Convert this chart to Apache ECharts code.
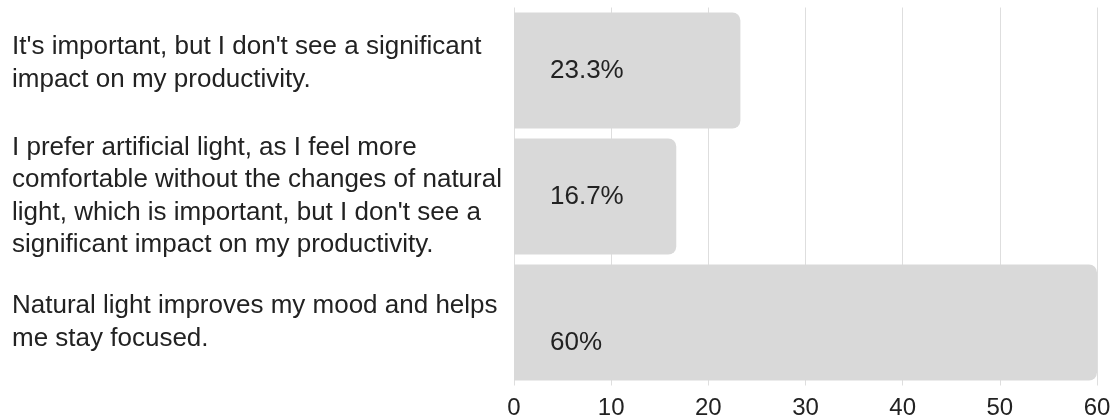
<!DOCTYPE html>
<html>
<head>
<meta charset="utf-8">
<script src="https://cdn.jsdelivr.net/npm/echarts@6/dist/echarts.min.js"></script>
<style>
  html, body { margin: 0; padding: 0; background: #fff; }
  #chart { width: 1115px; height: 417px; }
</style>
</head>
<body>
<div id="chart"></div>
<script>
// Survey answers about natural light, one bar per answer
const categories = [
  "It's important, but I don't see a significant\nimpact on my productivity.",
  "I prefer artificial light, as I feel more\ncomfortable without the changes of natural\nlight, which is important, but I don't see a\nsignificant impact on my productivity.",
  "Natural light improves my mood and helps\nme stay focused."
];
const shares = [23.3, 16.7, 60];
const valueLabels = ["23.3%", "16.7%", "60%"];
const xTicks = [0, 10, 20, 30, 40, 50, 60];

const FONT = '"Liberation Sans", Arial, sans-serif';

const chart = echarts.init(document.getElementById('chart'));
chart.setOption({
  animation: false,
  grid: {
    left: 514, right: 18, top: 7.5, bottom: 31.5,
    containLabel: false, outerBoundsMode: 'none'
  },
  xAxis: {
    type: 'value',
    min: xTicks[0],
    max: xTicks[xTicks.length - 1],
    interval: xTicks[1] - xTicks[0],
    axisLine: { show: false },
    axisTick: { show: false },
    splitLine: { show: true, lineStyle: { color: '#dedede', width: 1 } },
    axisLabel: { color: '#222', fontSize: 24, fontFamily: FONT, margin: 11 }
  },
  yAxis: {
    type: 'category',
    data: categories,
    inverse: true,
    axisLine: { show: false },
    axisTick: { show: false },
    axisLabel: {
      color: '#222', fontSize: 26, fontFamily: FONT, lineHeight: 32.5,
      align: 'left', margin: 502,
      // the first answer sits a little above the middle of its bar:
      // a short empty line under it lifts the block
      formatter: (value, index) => (index === 0 ? value + '\n{gap|}' : value),
      rich: { gap: { lineHeight: 14, fontSize: 1, height: 14 } }
    }
  },
  series: [{
    type: 'bar',
    barWidth: 116,
    data: shares.map((v, i) => ({
      value: v,
      label: {
        formatter: valueLabels[i],
        offset: i === shares.length - 1 ? [0, 20] : [0, 0]
      }
    })),
    itemStyle: { color: '#d9d9d9', borderRadius: [0, 8, 8, 0] },
    label: {
      show: true,
      position: 'insideLeft',
      distance: 36,
      color: '#222',
      fontSize: 26,
      fontFamily: FONT
    }
  }]
});
</script>
</body>
</html>
